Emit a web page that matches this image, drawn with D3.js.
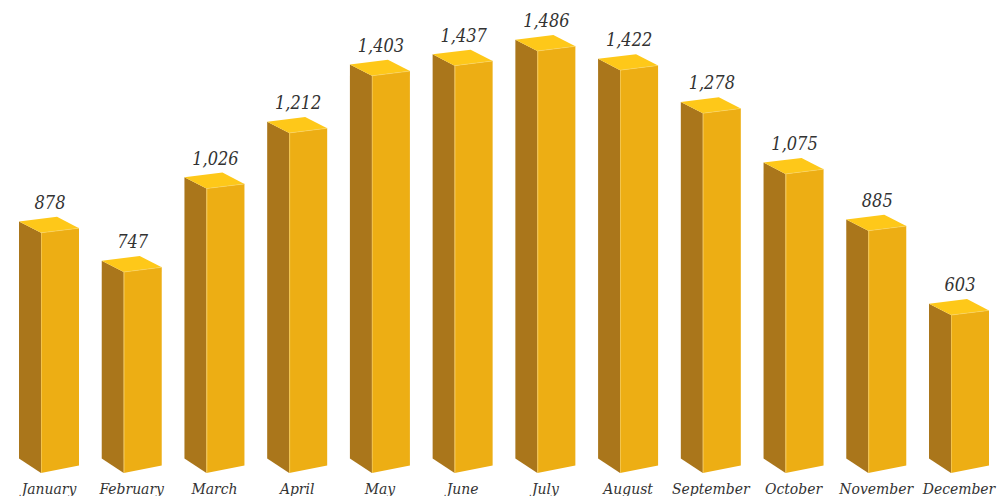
<!DOCTYPE html>
<html>
<head>
<meta charset="utf-8">
<script src="https://cdn.jsdelivr.net/npm/d3@7"></script>
<style>
  html, body { margin: 0; padding: 0; background: #ffffff; overflow: hidden; }
  svg { display: block; }
</style>
</head>
<body>
<svg id="chart" width="998" height="496"></svg>
<script>
const months = ["January","February","March","April","May","June","July","August","September","October","November","December"];
const values = [878, 747, 1026, 1212, 1403, 1437, 1486, 1422, 1278, 1075, 885, 603];

const svg = d3.select("#chart");
const x = d3.scalePoint().domain(months).range([41, 951]);
const y = d3.scaleLinear().domain([75, 1486]).range([473, 51]);
const fmt = d3.format(",");

// 3D geometry offsets
const W = 38, D = -22;
const topDy = { back: -11.3, right: -4.7 };
const botDy = { back: -14.5, right: -7.5 };

const colLeft = "#aa761b", colFront = "#edae14", colTop = "#fec819";

const g = svg.append("g");
const bars = g.selectAll("g.bar").data(months.map((m, i) => ({ m, v: values[i] })))
  .enter().append("g").attr("class", "bar");

function pts(a) { return a.map(p => p.join(",")).join(" "); }

bars.each(function(d) {
  const sel = d3.select(this);
  const fx = x(d.m), yb = y.range()[0], yt = y(d.v);
  // left face
  sel.append("polygon").attr("fill", colLeft).attr("points", pts([
    [fx + D, yt + topDy.back], [fx, yt], [fx, yb], [fx + D, yb + botDy.back]
  ]));
  // front face
  sel.append("polygon").attr("fill", colFront).attr("points", pts([
    [fx, yt], [fx + W, yt + topDy.right], [fx + W, yb + botDy.right], [fx, yb]
  ]));
  // top face
  sel.append("polygon").attr("fill", colTop).attr("points", pts([
    [fx + D, yt + topDy.back], [fx + W + D, yt + topDy.back + topDy.right], [fx + W, yt + topDy.right], [fx, yt]
  ]));
  // highlight edges
  sel.append("line").attr("x1", fx + 0.5).attr("x2", fx + 0.5).attr("y1", yt).attr("y2", yb)
    .attr("stroke", "#f6cf6a").attr("stroke-width", 0.8).attr("opacity", 0.8);
  sel.append("line").attr("x1", fx).attr("y1", yt).attr("x2", fx + W).attr("y2", yt + topDy.right)
    .attr("stroke", "#f8d66e").attr("stroke-width", 0.8).attr("opacity", 0.7);
  // value label
  sel.append("text").attr("x", fx + 9).attr("y", yt - 24)
    .attr("text-anchor", "middle")
    .attr("font-family", "'DejaVu Serif Condensed', 'DejaVu Serif', serif")
    .attr("font-style", "italic").attr("font-size", 18).attr("fill", "#333333")
    .text(fmt(d.v));
  // month label
  sel.append("text").attr("x", fx + 8).attr("y", 494)
    .attr("text-anchor", "middle")
    .attr("font-family", "'DejaVu Serif Condensed', 'DejaVu Serif', serif")
    .attr("font-style", "italic").attr("font-size", 15.5).attr("fill", "#333333")
    .text(d.m);
});
</script>
</body>
</html>
